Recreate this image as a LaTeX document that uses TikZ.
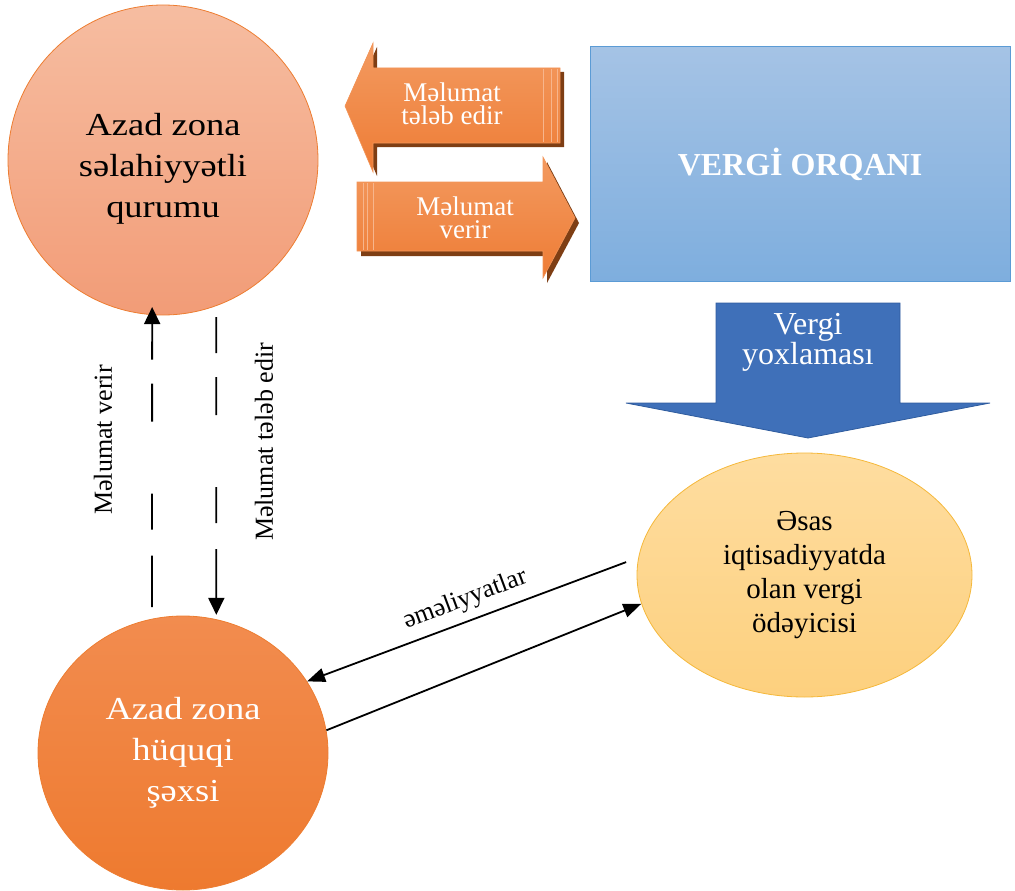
\documentclass[tikz,border=0pt]{standalone}
\usepackage{fontspec}
\setmainfont{Liberation Serif}
\newfontfamily\widefont[FakeStretch=1.14]{Liberation Serif}
\usetikzlibrary{arrows.meta,shapes.geometric,positioning}
\definecolor{salmontop}{HTML}{F6BDA1}
\definecolor{salmonbot}{HTML}{F29C77}
\definecolor{orangetop}{HTML}{F28C4F}
\definecolor{orangebot}{HTML}{EE7A2F}
\definecolor{orangeline}{HTML}{ED7D31}
\definecolor{yellowtop}{HTML}{FEDDA0}
\definecolor{yellowbot}{HTML}{FDD07E}
\definecolor{yellowline}{HTML}{F5B83A}
\definecolor{bluetop}{HTML}{A5C3E5}
\definecolor{bluebot}{HTML}{7EAEDE}
\definecolor{blueline}{HTML}{5B9BD5}
\definecolor{darkblue}{HTML}{3F70B9}
\definecolor{darkblueline}{HTML}{2F5C9E}
\definecolor{arrowtop}{HTML}{F39A60}
\definecolor{arrowbot}{HTML}{EE7C35}
\definecolor{arrowshadow}{HTML}{7E3E14}
\definecolor{stripe}{HTML}{F7B58C}

\begin{document}
\begin{tikzpicture}[x=1pt,y=-1pt]
\tikzstyle{main}=[ellipse, inner sep=0pt, align=center, draw=orangeline, line width=0.8pt]
\tikzstyle{bigtext}=[align=center, font=\widefont\fontsize{32}{41}\selectfont]
\tikzstyle{arrowtext}=[align=center, text=white, font=\fontsize{27}{23}\selectfont]
\tikzstyle{sidetext}=[rotate=90, font=\fontsize{26}{30}\selectfont]
\tikzstyle{fatarrow}=[top color=arrowtop, bottom color=arrowbot, draw=arrowtop!80!orangeline, line width=0.6pt]
\tikzstyle{shadow}=[fill=arrowshadow]
\tikzstyle{stripes}=[draw=stripe, line width=1pt]
\tikzstyle{dashline}=[line width=1.8pt, dash pattern=on 36pt off 24pt on 38pt off 72pt on 36pt off 26pt on 90pt off 0pt]
\tikzstyle{connect}=[line width=1.8pt, -{Triangle[length=18pt,width=14pt]}]

\useasboundingbox (0,0) rectangle (1015,891);

  \node[main, minimum width=310pt, minimum height=310pt,
        top color=salmontop, bottom color=salmonbot] (azq) at (163,160) {};
  \node[bigtext] (azqtext) at (163,169) {Azad zona\\səlahiyyətli\\qurumu};
  \node[main, bigtext, text=white, minimum width=290pt, minimum height=274pt,
        top color=orangetop, bottom color=orangebot] (hs) at (183,753) {Azad zona\\hüquqi\\şəxsi};
  \node[main, font=\fontsize{29}{34}\selectfont, minimum width=335pt, minimum height=244pt,
        top color=yellowtop, bottom color=yellowbot, draw=yellowline] (ozq) at (804.5,575) {Əsas\\iqtisadiyyatda\\olan vergi\\ödəyicisi};
  \node[rectangle, minimum width=420pt, minimum height=234pt, top color=bluetop, bottom color=bluebot,
        draw=blueline, line width=1pt, text=white, font=\bfseries\fontsize{32}{38}\selectfont] (vo) at (800,164) {VERGİ ORQANI};

  % blue arrow
  \draw[fill=darkblue, draw=darkblueline, line width=0.8pt]
    (716,303) -- (900,303) -- (900,403) -- (990,403) -- (808,438) -- (626,403) -- (716,403) -- cycle;
  \node[align=center, text=white, font=\fontsize{32}{26}\selectfont] (vy) at (808,342) {Vergi\\yoxlaması};

  % orange arrows
  \path[shadow] (564,72) -- (377,72) -- (377,47) -- (349,110) -- (377,176) -- (377,147) -- (564,147) -- cycle;
  \path[fatarrow] (560,68) -- (373,68) -- (373,43) -- (345,106) -- (373,172) -- (373,143) -- (560,143) -- cycle;
  \foreach \x in {543,551,557} \draw[stripes] (\x,69) -- (\x,142);
  \node[arrowtext] (mt) at (452,104) {Məlumat\\tələb edir};

  \path[shadow] (361,187) -- (547,187) -- (547,162) -- (579,223) -- (547,283) -- (547,256) -- (361,256) -- cycle;
  \path[fatarrow] (357,182) -- (543,182) -- (543,157) -- (575,218) -- (543,278) -- (543,251) -- (357,251) -- cycle;
  \foreach \x in {363,367,373} \draw[stripes] (\x,183) -- (\x,250);
  \node[arrowtext] (mv) at (465,218) {Məlumat\\verir};

  \path (azq.-94.8) edge [dashline, {Triangle[length=17pt,width=16pt]}-, shorten <=-8pt, shorten >=11.6pt] (hs.103.9);
  \path (azq.-70.4) edge [dashline, -{Triangle[length=17pt,width=16pt]}, shorten <=11pt, shorten >=4.4pt] (hs.76.5);
  \node[sidetext] (lmv) at (103,440) {Məlumat verir};
  \node[sidetext] (lmt) at (264,442) {Məlumat tələb edir};

  \path (ozq.174.3) edge [connect, shorten <=13pt] node [pos=0.5, above=5pt, sloped, font=\fontsize{26}{30}\selectfont] (em) {əməliyyatlar} (hs.30);
  \path (hs.9.3) edge [connect] (ozq.190.5);

\end{tikzpicture}
\end{document}
